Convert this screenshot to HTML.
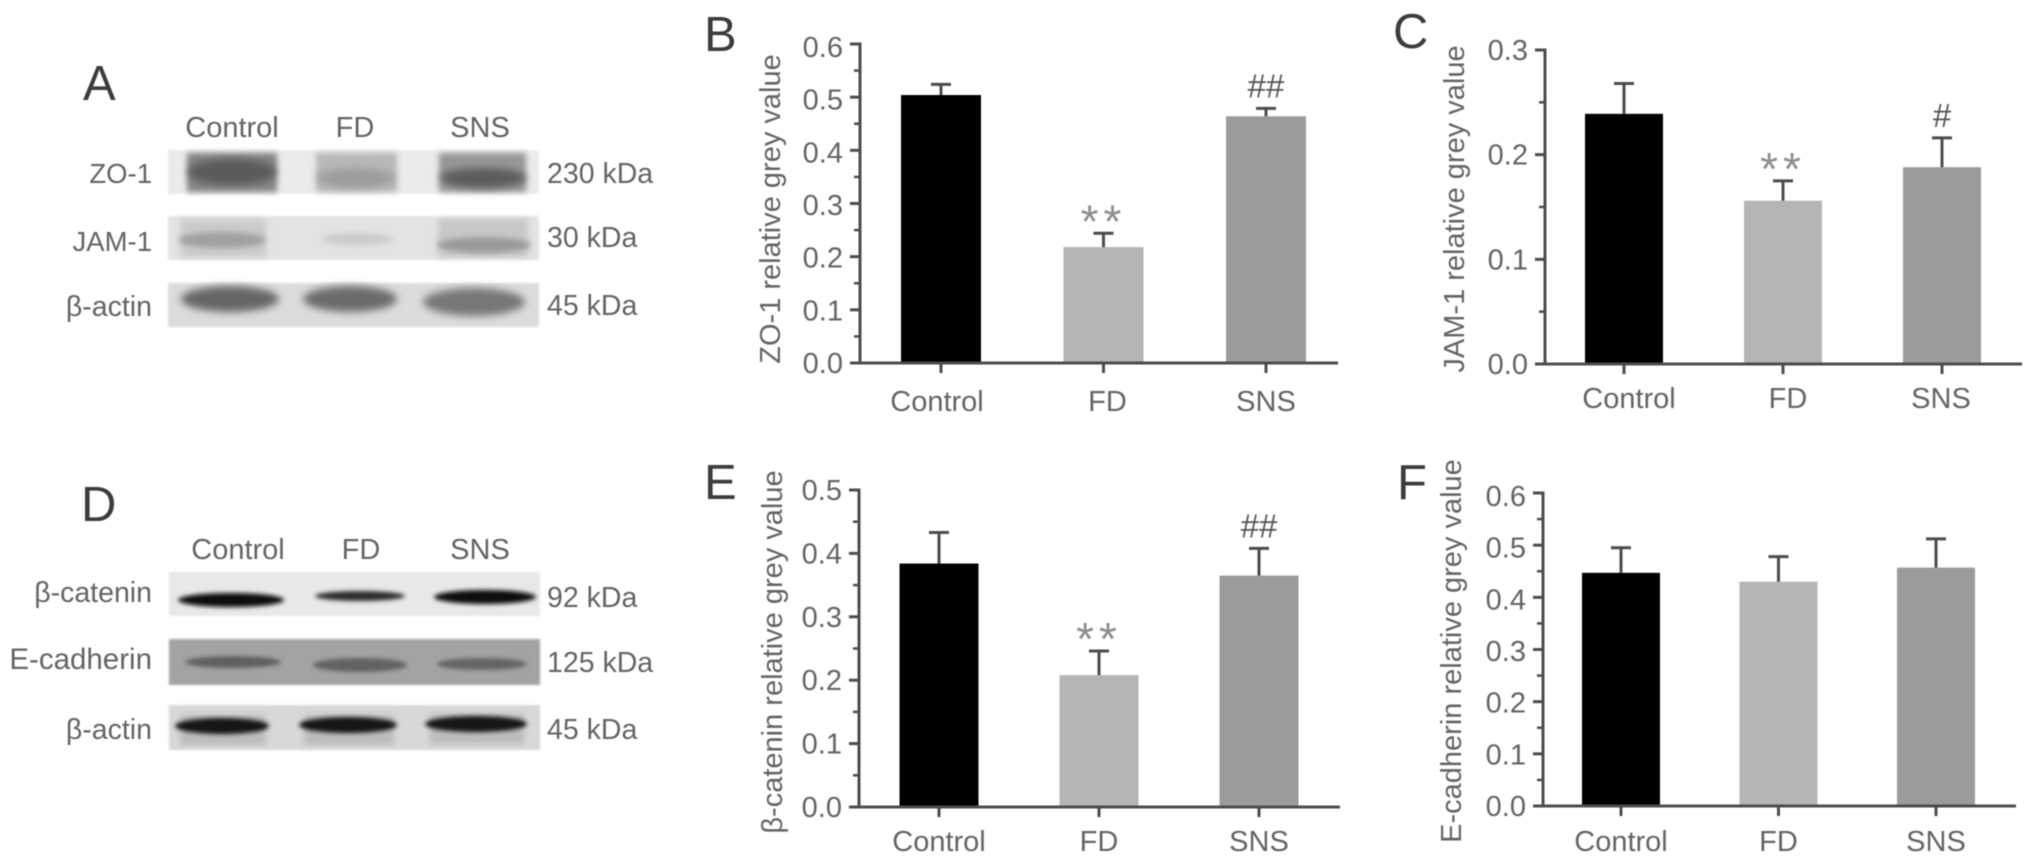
<!DOCTYPE html>
<html lang="en">
<head>
<meta charset="utf-8">
<title>Western blots and relative grey value bar charts</title>
<style>
html,body{margin:0;padding:0;background:#fff;width:2032px;height:865px;overflow:hidden}
#figure{display:block;filter:blur(0.6px)}
text{font-family:"Liberation Sans","DejaVu Sans",sans-serif;fill:#646464}
.lbl{font-size:29px}
.row{font-size:28.5px}
.panel{font-size:49px;fill:#3c3c3c}
</style>
</head>
<body>
<svg id="figure" xmlns="http://www.w3.org/2000/svg" width="2032" height="865" viewBox="0 0 2032 865">
  <defs>
    <filter id="b4" x="-40%" y="-80%" width="180%" height="260%"><feGaussianBlur stdDeviation="4"/></filter>
    <filter id="b3" x="-30%" y="-80%" width="160%" height="260%"><feGaussianBlur stdDeviation="3"/></filter>
    <filter id="b2" x="-30%" y="-100%" width="160%" height="300%"><feGaussianBlur stdDeviation="2"/></filter>
    <filter id="b1" x="-10%" y="-10%" width="120%" height="120%"><feGaussianBlur stdDeviation="1"/></filter>
  </defs>

  <text class="panel" x="83" y="100">A</text>
  <text class="panel" x="81" y="521">D</text>
  <text class="panel" x="704" y="51">B</text>
  <text class="panel" x="1393" y="48">C</text>
  <text class="panel" x="704" y="499">E</text>
  <text class="panel" x="1397" y="499">F</text>

  <g>
    <text class="lbl" x="232" y="137" text-anchor="middle">Control</text>
    <text class="lbl" x="355" y="137" text-anchor="middle">FD</text>
    <text class="lbl" x="480" y="137" text-anchor="middle">SNS</text>

    <text class="row" x="152" y="183" text-anchor="end" style="font-size:27.5px">ZO-1</text>
    <text class="row" x="152" y="251" text-anchor="end" style="font-size:27.5px">JAM-1</text>
    <text class="row" x="152" y="316" text-anchor="end">β-actin</text>
    <text class="row" x="547" y="183">230 kDa</text>
    <text class="row" x="547" y="247">30 kDa</text>
    <text class="row" x="547" y="315">45 kDa</text>

    <g>
      <rect x="168" y="150" width="371" height="44" fill="#ebebeb" filter="url(#b1)"/>
      <rect x="187" y="153" width="90" height="39" fill="#848484" filter="url(#b3)"/>
      <ellipse cx="232" cy="172" rx="44" ry="13" fill="#5a5a5a" filter="url(#b4)"/>
      <rect x="316" y="153" width="81" height="39" fill="#b8b8b8" filter="url(#b3)"/>
      <ellipse cx="356" cy="178" rx="39" ry="10" fill="#9c9c9c" filter="url(#b4)"/>
      <rect x="439" y="153" width="87" height="39" fill="#969696" filter="url(#b3)"/>
      <ellipse cx="483" cy="178" rx="43" ry="10" fill="#5c5c5c" filter="url(#b4)"/>
    </g>
    <g>
      <rect x="168" y="216" width="371" height="44" fill="#e3e3e3" filter="url(#b1)"/>
      <rect x="181" y="219" width="85" height="38" fill="#cbcbcb" filter="url(#b3)"/>
      <ellipse cx="222" cy="240" rx="44" ry="8" fill="#a0a0a0" filter="url(#b3)"/>
      <ellipse cx="357" cy="239" rx="36" ry="6" fill="#cbcbcb" filter="url(#b3)"/>
      <rect x="438" y="219" width="90" height="38" fill="#c8c8c8" filter="url(#b3)"/>
      <ellipse cx="484" cy="245" rx="47" ry="8" fill="#9a9a9a" filter="url(#b3)"/>
    </g>
    <g>
      <rect x="168" y="283" width="371" height="44" fill="#dcdcdc" filter="url(#b1)"/>
      <ellipse cx="230" cy="299" rx="49" ry="13" fill="#666" filter="url(#b4)"/>
      <ellipse cx="350" cy="299" rx="47" ry="13" fill="#6c6c6c" filter="url(#b4)"/>
      <ellipse cx="474" cy="302" rx="51" ry="14" fill="#777" filter="url(#b4)"/>
    </g>
  </g>

  <g>
    <text class="lbl" x="238" y="559" text-anchor="middle">Control</text>
    <text class="lbl" x="361" y="559" text-anchor="middle">FD</text>
    <text class="lbl" x="480" y="559" text-anchor="middle">SNS</text>

    <text class="row" x="152" y="602" text-anchor="end">β-catenin</text>
    <text class="row" x="152" y="669" text-anchor="end" style="font-size:29.5px">E-cadherin</text>
    <text class="row" x="152" y="739" text-anchor="end">β-actin</text>
    <text class="row" x="547" y="607">92 kDa</text>
    <text class="row" x="547" y="672">125 kDa</text>
    <text class="row" x="547" y="739">45 kDa</text>

    <g>
      <rect x="169" y="572" width="371" height="44" fill="#e8e8e8" filter="url(#b1)"/>
      <ellipse cx="231" cy="600" rx="53" ry="7" fill="#0c0c0c" filter="url(#b2)"/>
      <ellipse cx="360" cy="596" rx="45" ry="5" fill="#2a2a2a" filter="url(#b2)"/>
      <ellipse cx="485" cy="597" rx="51" ry="7" fill="#0c0c0c" filter="url(#b2)"/>
    </g>
    <g>
      <rect x="169" y="639" width="371" height="46" fill="#a3a3a3" filter="url(#b1)"/>
      <ellipse cx="233" cy="662" rx="48" ry="6" fill="#5e5e5e" filter="url(#b2)"/>
      <ellipse cx="360" cy="665" rx="47" ry="7" fill="#626262" filter="url(#b2)"/>
      <ellipse cx="482" cy="664" rx="45" ry="6" fill="#646464" filter="url(#b2)"/>
    </g>
    <g>
      <rect x="169" y="705" width="371" height="45" fill="#d8d8d8" filter="url(#b1)"/>
      <rect x="180" y="715" width="86" height="30" fill="#bcbcbc" filter="url(#b3)"/>
      <rect x="304" y="715" width="90" height="30" fill="#bcbcbc" filter="url(#b3)"/>
      <rect x="430" y="714" width="94" height="30" fill="#bcbcbc" filter="url(#b3)"/>
      <ellipse cx="222" cy="726" rx="47" ry="8" fill="#161616" filter="url(#b2)"/>
      <ellipse cx="348" cy="725" rx="49" ry="8" fill="#121212" filter="url(#b2)"/>
      <ellipse cx="476" cy="724" rx="51" ry="8" fill="#161616" filter="url(#b2)"/>
    </g>
  </g>

  <g id="charts"></g>
</svg>

<script>
const categories = ['Control', 'FD', 'SNS'];
const barColors = ['#000000', '#b5b5b5', '#9b9b9b'];

const zoTicks = ['0.0', '0.1', '0.2', '0.3', '0.4', '0.5', '0.6'];
const zoValues = [0.504, 0.218, 0.464];
const zoErrorTops = [0.524, 0.244, 0.479];
const zoMarkers = ['', '**', '##'];

const jamTicks = ['0.0', '0.1', '0.2', '0.3'];
const jamValues = [0.239, 0.156, 0.188];
const jamErrorTops = [0.268, 0.175, 0.216];
const jamMarkers = ['', '**', '#'];

const cateninTicks = ['0.0', '0.1', '0.2', '0.3', '0.4', '0.5'];
const cateninValues = [0.384, 0.208, 0.365];
const cateninErrorTops = [0.433, 0.246, 0.408];
const cateninMarkers = ['', '**', '##'];

const cadherinTicks = ['0.0', '0.1', '0.2', '0.3', '0.4', '0.5', '0.6'];
const cadherinValues = [0.447, 0.430, 0.457];
const cadherinErrorTops = [0.495, 0.478, 0.512];
const cadherinMarkers = ['', '', ''];

const NS = 'http://www.w3.org/2000/svg';
const AXIS_COLOR = '#4c4c4c';

function svgEl(tag, attrs, parent) {
  const el = document.createElementNS(NS, tag);
  for (const k in attrs) el.setAttribute(k, attrs[k]);
  parent.appendChild(el);
  return el;
}

function drawChart(slug, title, layout, ticks, values, errorTops, markers) {
  const root = document.getElementById('charts');
  const g = svgEl('g', {}, root);
  
  

  const maxValue = parseFloat(ticks[ticks.length - 1]);
  const minValue = parseFloat(ticks[0]);
  const yScale = v => layout.bottom - (v - minValue) / (maxValue - minValue) * (layout.bottom - layout.top);
  const xScale = i => layout.firstX + i * layout.stepX;

  categories.forEach((cat, i) => {
    const bar = svgEl('rect', {
      x: xScale(i) - layout.barW / 2,
      y: yScale(values[i]),
      width: layout.barW,
      height: layout.bottom - yScale(values[i]),
      fill: barColors[i]
    }, g);
    
    

    const stem = svgEl('line', {
      x1: xScale(i), x2: xScale(i),
      y1: yScale(values[i]), y2: yScale(errorTops[i]),
      stroke: AXIS_COLOR, 'stroke-width': 3
    }, g);
    
    

    const cap = svgEl('line', {
      x1: xScale(i) - 10, x2: xScale(i) + 10,
      y1: yScale(errorTops[i]), y2: yScale(errorTops[i]),
      stroke: AXIS_COLOR, 'stroke-width': 3
    }, g);
    
    

    if (markers[i]) {
      const isStar = markers[i].charAt(0) === '*';
      const mark = svgEl('text', {
        x: xScale(i),
        y: yScale(errorTops[i]) + (isStar ? 4 : -11),
        'text-anchor': 'middle',
        'font-size': isStar ? 46 : 33,
        'letter-spacing': isStar ? 5 : 0,
        style: isStar ? 'fill:#8f8f8f' : 'fill:#555'
      }, g);
      mark.textContent = markers[i];
      
      
    }

    const tick = svgEl('line', {
      x1: xScale(i), x2: xScale(i),
      y1: layout.bottom, y2: layout.bottom + 10,
      stroke: AXIS_COLOR, 'stroke-width': 3
    }, g);
    
    

    const label = svgEl('text', {
      x: xScale(i) + (layout.labelNudge[cat] || 0), y: layout.labelY,
      'text-anchor': 'middle', class: 'lbl'
    }, g);
    label.textContent = cat;
    
    
  });

  const yAxis = svgEl('line', {
    x1: layout.axisX, x2: layout.axisX,
    y1: layout.top - 1.5, y2: layout.bottom + 1.5,
    stroke: AXIS_COLOR, 'stroke-width': 3
  }, g);
  
  

  const xAxis = svgEl('line', {
    x1: layout.axisX - 10, x2: layout.axisEnd,
    y1: layout.bottom, y2: layout.bottom,
    stroke: AXIS_COLOR, 'stroke-width': 3
  }, g);
  
  

  ticks.forEach((t, i) => {
    const v = parseFloat(t);
    const tickLine = svgEl('line', {
      x1: layout.axisX - 10, x2: layout.axisX,
      y1: yScale(v), y2: yScale(v),
      stroke: AXIS_COLOR, 'stroke-width': 3
    }, g);
    
    

    const tickText = svgEl('text', {
      x: layout.axisX - 17,
      y: yScale(v) + 10 + layout.labelDrift * (v - minValue) / (maxValue - minValue),
      'text-anchor': 'end', class: 'lbl'
    }, g);
    tickText.textContent = t;
    
    

    if (i < ticks.length - 1) {
      const mid = (v + parseFloat(ticks[i + 1])) / 2;
      const minor = svgEl('line', {
        x1: layout.axisX - 6, x2: layout.axisX,
        y1: yScale(mid), y2: yScale(mid),
        stroke: AXIS_COLOR, 'stroke-width': 2.5
      }, g);
      
      
    }
  });

  const yTitle = svgEl('text', {
    transform: 'translate(' + layout.titleX + ',' + layout.titleY + ') rotate(-90)',
    'text-anchor': 'middle', class: 'lbl'
  }, g);
  yTitle.textContent = title;
  
  
}

drawChart('zo-1', 'ZO-1 relative grey value',
  {axisX: 860, axisEnd: 1338, top: 44, bottom: 363, firstX: 941, stepX: 162.5, barW: 80, labelY: 411, titleX: 780, titleY: 209, labelDrift: 3, labelNudge: {Control: -4, FD: 4}},
  zoTicks, zoValues, zoErrorTops, zoMarkers);

drawChart('jam-1', 'JAM-1 relative grey value',
  {axisX: 1545, axisEnd: 2022, top: 50, bottom: 364, firstX: 1624, stepX: 159, barW: 78, labelY: 408, titleX: 1464, titleY: 209, labelDrift: 0, labelNudge: {Control: 5, FD: 5, SNS: -1}},
  jamTicks, jamValues, jamErrorTops, jamMarkers);

drawChart('beta-catenin', 'β-catenin relative grey value',
  {axisX: 859, axisEnd: 1340, top: 490, bottom: 807, firstX: 939, stepX: 160, barW: 79, labelY: 851, titleX: 782, titleY: 652, labelDrift: 0, labelNudge: {}},
  cateninTicks, cateninValues, cateninErrorTops, cateninMarkers);

drawChart('e-cadherin', 'E-cadherin relative grey value',
  {axisX: 1543, axisEnd: 2016, top: 493, bottom: 806, firstX: 1621, stepX: 157.5, barW: 78, labelY: 851, titleX: 1461, titleY: 651, labelDrift: 3, labelNudge: {}},
  cadherinTicks, cadherinValues, cadherinErrorTops, cadherinMarkers);
</script>
</body>
</html>
